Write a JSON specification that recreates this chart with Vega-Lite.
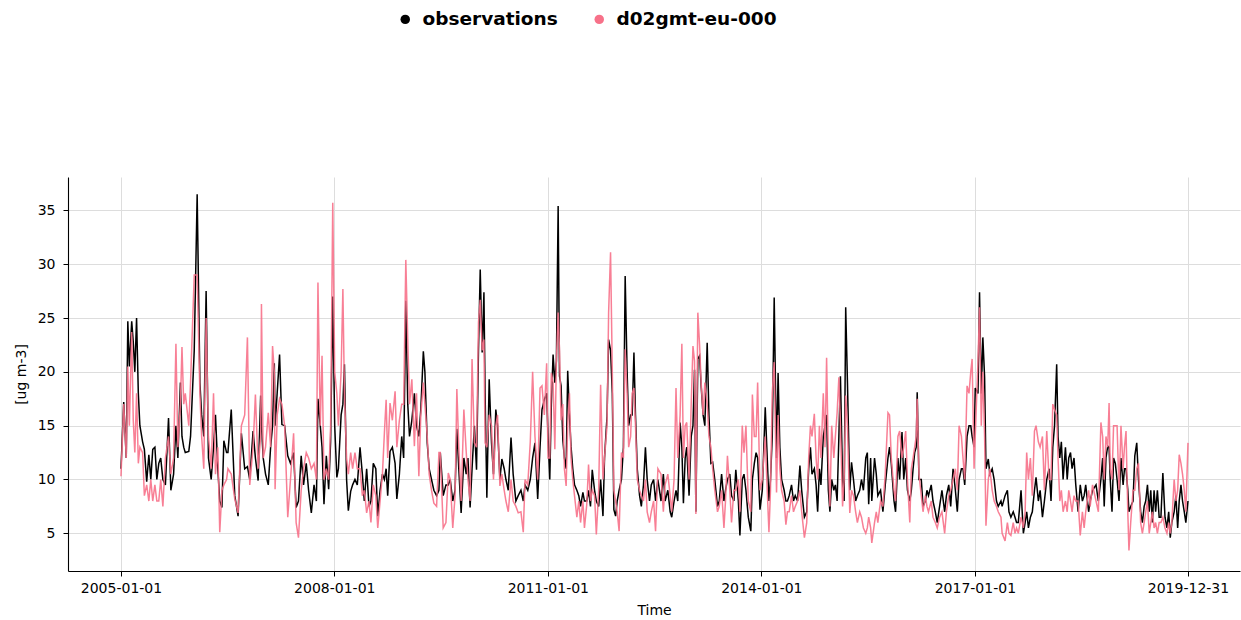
{
"$schema": "https://vega.github.io/schema/vega-lite/v6.json",
"width": 1172, "height": 394,
"autosize": {"type": "none"},
"padding": {"left": 68, "top": 177, "right": 1, "bottom": 49},
"background": "white",
"config": {"view": {"stroke": null}, "font": "DejaVu Sans"},
"datasets": {
"obs": [
{"d":"2005-01-01","v":11},{"d":"2005-01-15","v":17.2},{"d":"2005-01-28","v":12},{"d":"2005-02-05","v":24.7},{"d":"2005-02-13","v":20.5},{"d":"2005-02-25","v":24.7},{"d":"2005-03-05","v":22.8},{"d":"2005-03-13","v":20},{"d":"2005-03-22","v":25},{"d":"2005-03-31","v":18},{"d":"2005-04-08","v":15},{"d":"2005-04-22","v":13.5},{"d":"2005-05-01","v":12.8},{"d":"2005-05-13","v":9.8},{"d":"2005-05-24","v":12.3},{"d":"2005-06-03","v":10},{"d":"2005-06-13","v":12.8},{"d":"2005-06-24","v":13},{"d":"2005-07-04","v":10},{"d":"2005-07-14","v":11.5},{"d":"2005-07-24","v":12},{"d":"2005-08-04","v":10},{"d":"2005-08-17","v":9.5},{"d":"2005-09-02","v":15.7},{"d":"2005-09-14","v":9},{"d":"2005-09-28","v":10.5},{"d":"2005-10-10","v":15},{"d":"2005-10-20","v":12},{"d":"2005-11-02","v":19},{"d":"2005-11-10","v":14},{"d":"2005-11-19","v":13},{"d":"2005-11-27","v":12.5},{"d":"2005-12-15","v":12.6},{"d":"2005-12-24","v":14},
{"d":"2006-01-12","v":22},{"d":"2006-01-27","v":36.5},{"d":"2006-02-10","v":19},{"d":"2006-02-19","v":16},{"d":"2006-03-02","v":14},{"d":"2006-03-14","v":27.5},{"d":"2006-03-26","v":12},{"d":"2006-04-09","v":10},{"d":"2006-04-21","v":13},{"d":"2006-05-01","v":16},{"d":"2006-05-13","v":11},{"d":"2006-05-23","v":8},{"d":"2006-06-03","v":7.4},{"d":"2006-06-13","v":13.6},{"d":"2006-06-27","v":12.5},{"d":"2006-07-04","v":12.5},{"d":"2006-07-21","v":16.5},{"d":"2006-08-08","v":8.5},{"d":"2006-08-25","v":6.6},{"d":"2006-09-11","v":14.3},{"d":"2006-09-28","v":11},{"d":"2006-10-12","v":11.2},{"d":"2006-10-24","v":10},{"d":"2006-11-10","v":14.5},{"d":"2006-11-22","v":12},{"d":"2006-12-06","v":9.9},{"d":"2006-12-19","v":17.8},{"d":"2006-12-23","v":15},
{"d":"2007-01-01","v":12},{"d":"2007-01-13","v":10.5},{"d":"2007-01-27","v":9.5},{"d":"2007-02-08","v":13},{"d":"2007-02-18","v":15},{"d":"2007-02-27","v":20.8},{"d":"2007-03-03","v":15},{"d":"2007-03-14","v":18.1},{"d":"2007-03-26","v":21.6},{"d":"2007-04-07","v":15.1},{"d":"2007-04-21","v":15},{"d":"2007-05-07","v":12.2},{"d":"2007-05-21","v":11.5},{"d":"2007-06-06","v":12.5},{"d":"2007-06-19","v":7.4},{"d":"2007-07-01","v":8},{"d":"2007-07-15","v":12.2},{"d":"2007-07-27","v":9.5},{"d":"2007-08-10","v":11.5},{"d":"2007-08-22","v":9},{"d":"2007-09-05","v":6.9},{"d":"2007-09-19","v":9.5},{"d":"2007-10-01","v":8},{"d":"2007-10-09","v":17.5},{"d":"2007-10-21","v":15},{"d":"2007-10-30","v":13},{"d":"2007-11-09","v":7.7},{"d":"2007-11-21","v":12.2},{"d":"2007-12-03","v":9.1},{"d":"2007-12-13","v":13.5},{"d":"2007-12-24","v":27},
{"d":"2008-01-03","v":15},{"d":"2008-01-14","v":10.2},{"d":"2008-01-22","v":11},{"d":"2008-02-05","v":16},{"d":"2008-02-14","v":17},{"d":"2008-02-22","v":20.7},{"d":"2008-03-04","v":10},{"d":"2008-03-13","v":7.1},{"d":"2008-03-25","v":8.9},{"d":"2008-04-04","v":9.5},{"d":"2008-04-16","v":10},{"d":"2008-04-28","v":9.5},{"d":"2008-05-12","v":13},{"d":"2008-05-24","v":10.5},{"d":"2008-06-03","v":8},{"d":"2008-06-15","v":11},{"d":"2008-06-27","v":7.5},{"d":"2008-07-07","v":8},{"d":"2008-07-19","v":11.5},{"d":"2008-08-01","v":11},{"d":"2008-08-11","v":6.6},{"d":"2008-08-23","v":9},{"d":"2008-09-04","v":10.5},{"d":"2008-09-14","v":10},{"d":"2008-09-23","v":11},{"d":"2008-10-01","v":8.5},{"d":"2008-10-13","v":12.6},{"d":"2008-10-25","v":13},{"d":"2008-11-08","v":11.5},{"d":"2008-11-17","v":8.2},{"d":"2008-11-30","v":10.5},{"d":"2008-12-12","v":14},{"d":"2008-12-22","v":12},
{"d":"2009-01-02","v":26.6},{"d":"2009-01-12","v":17},{"d":"2009-01-21","v":14},{"d":"2009-02-02","v":15.5},{"d":"2009-02-15","v":18},{"d":"2009-02-26","v":15},{"d":"2009-03-10","v":14},{"d":"2009-03-20","v":16.5},{"d":"2009-04-02","v":21.9},{"d":"2009-04-10","v":20},{"d":"2009-04-22","v":13.4},{"d":"2009-05-02","v":11},{"d":"2009-05-14","v":10},{"d":"2009-05-26","v":9},{"d":"2009-06-09","v":8.5},{"d":"2009-06-21","v":9},{"d":"2009-06-28","v":12.5},{"d":"2009-07-13","v":8.5},{"d":"2009-07-27","v":9.5},{"d":"2009-08-08","v":9.5},{"d":"2009-08-18","v":10},{"d":"2009-08-31","v":8},{"d":"2009-09-12","v":9},{"d":"2009-09-21","v":14.7},{"d":"2009-10-01","v":11},{"d":"2009-10-13","v":6.9},{"d":"2009-10-27","v":12},{"d":"2009-11-08","v":10.5},{"d":"2009-11-17","v":12},{"d":"2009-11-28","v":7.4},{"d":"2009-12-08","v":11},{"d":"2009-12-20","v":15},{"d":"2009-12-31","v":10.9},
{"d":"2010-01-10","v":22},{"d":"2010-01-19","v":29.5},{"d":"2010-01-29","v":21.8},{"d":"2010-02-07","v":27.4},{"d":"2010-02-13","v":18},{"d":"2010-02-22","v":8.3},{"d":"2010-03-06","v":19.3},{"d":"2010-03-18","v":13.4},{"d":"2010-03-28","v":10.5},{"d":"2010-04-09","v":16.5},{"d":"2010-04-18","v":15},{"d":"2010-04-30","v":10},{"d":"2010-05-10","v":11.9},{"d":"2010-05-22","v":11},{"d":"2010-05-31","v":10},{"d":"2010-06-12","v":9},{"d":"2010-06-26","v":13.9},{"d":"2010-07-07","v":10.5},{"d":"2010-07-21","v":8},{"d":"2010-08-02","v":8.5},{"d":"2010-08-16","v":9},{"d":"2010-08-28","v":8},{"d":"2010-09-06","v":9.5},{"d":"2010-09-20","v":9},{"d":"2010-10-03","v":10},{"d":"2010-10-15","v":12},{"d":"2010-10-27","v":13.4},{"d":"2010-11-10","v":8.2},{"d":"2010-11-22","v":13},{"d":"2010-12-02","v":16.5},{"d":"2010-12-14","v":17.4},{"d":"2010-12-26","v":18},
{"d":"2011-01-02","v":14},{"d":"2011-01-11","v":10},{"d":"2011-01-19","v":17},{"d":"2011-01-28","v":21.6},{"d":"2011-02-06","v":19},{"d":"2011-02-14","v":21},{"d":"2011-02-23","v":35.4},{"d":"2011-03-02","v":19.6},{"d":"2011-03-10","v":18.7},{"d":"2011-03-19","v":13.7},{"d":"2011-03-27","v":12},{"d":"2011-04-05","v":11},{"d":"2011-04-13","v":20.1},{"d":"2011-04-22","v":16},{"d":"2011-04-30","v":13.1},{"d":"2011-05-09","v":11},{"d":"2011-05-18","v":9.5},{"d":"2011-05-30","v":9},{"d":"2011-06-09","v":8.5},{"d":"2011-06-18","v":7.5},{"d":"2011-06-30","v":8.8},{"d":"2011-07-08","v":8},{"d":"2011-07-20","v":8},{"d":"2011-07-29","v":9},{"d":"2011-08-08","v":7.5},{"d":"2011-08-17","v":10.9},{"d":"2011-08-29","v":9},{"d":"2011-09-07","v":8},{"d":"2011-09-19","v":7.5},{"d":"2011-09-29","v":10},{"d":"2011-10-11","v":6.6},{"d":"2011-10-19","v":12},{"d":"2011-11-01","v":15.9},{"d":"2011-11-09","v":23},{"d":"2011-11-19","v":22},{"d":"2011-11-28","v":18},{"d":"2011-12-06","v":7.2},{"d":"2011-12-15","v":6.6},{"d":"2011-12-23","v":8},
{"d":"2012-01-02","v":9},{"d":"2012-01-14","v":10},{"d":"2012-01-24","v":13},{"d":"2012-02-02","v":28.9},{"d":"2012-02-12","v":20},{"d":"2012-02-20","v":15},{"d":"2012-03-01","v":16},{"d":"2012-03-09","v":16},{"d":"2012-03-18","v":21.8},{"d":"2012-03-26","v":16},{"d":"2012-04-04","v":11},{"d":"2012-04-16","v":8.5},{"d":"2012-04-25","v":7.5},{"d":"2012-05-06","v":9.5},{"d":"2012-05-16","v":13},{"d":"2012-05-25","v":10},{"d":"2012-06-06","v":8},{"d":"2012-06-15","v":9.5},{"d":"2012-06-27","v":10},{"d":"2012-07-07","v":8},{"d":"2012-07-19","v":10},{"d":"2012-08-04","v":8},{"d":"2012-08-16","v":10.5},{"d":"2012-08-25","v":8},{"d":"2012-09-08","v":9},{"d":"2012-09-20","v":7},{"d":"2012-09-28","v":6.5},{"d":"2012-10-10","v":8},{"d":"2012-10-20","v":9},{"d":"2012-10-29","v":8},{"d":"2012-11-10","v":15.3},{"d":"2012-11-19","v":13},{"d":"2012-11-27","v":7.8},{"d":"2012-12-06","v":12},{"d":"2012-12-14","v":13},{"d":"2012-12-26","v":8.5},
{"d":"2013-01-06","v":14},{"d":"2013-01-15","v":15},{"d":"2013-01-23","v":20.2},{"d":"2013-01-30","v":7},{"d":"2013-02-09","v":21.2},{"d":"2013-02-18","v":21.5},{"d":"2013-02-26","v":18.7},{"d":"2013-03-08","v":16},{"d":"2013-03-17","v":15},{"d":"2013-03-29","v":22.7},{"d":"2013-04-07","v":16},{"d":"2013-04-17","v":11.5},{"d":"2013-04-26","v":11.6},{"d":"2013-05-07","v":10},{"d":"2013-05-21","v":7.5},{"d":"2013-05-30","v":8},{"d":"2013-06-11","v":10.5},{"d":"2013-06-23","v":8},{"d":"2013-07-01","v":9},{"d":"2013-07-11","v":10},{"d":"2013-07-23","v":10.5},{"d":"2013-08-01","v":8.5},{"d":"2013-08-13","v":8},{"d":"2013-08-23","v":10.9},{"d":"2013-09-05","v":8},{"d":"2013-09-13","v":4.8},{"d":"2013-09-25","v":10},{"d":"2013-10-04","v":10.5},{"d":"2013-10-14","v":9},{"d":"2013-10-26","v":6.5},{"d":"2013-11-08","v":5.2},{"d":"2013-11-16","v":10},{"d":"2013-11-26","v":11.5},{"d":"2013-12-05","v":12.5},{"d":"2013-12-13","v":12},{"d":"2013-12-25","v":7.2},
{"d":"2014-01-06","v":9},{"d":"2014-01-21","v":16.7},{"d":"2014-01-29","v":13},{"d":"2014-02-09","v":8},{"d":"2014-02-17","v":10},{"d":"2014-02-26","v":14},{"d":"2014-03-08","v":26.9},{"d":"2014-03-20","v":12},{"d":"2014-03-28","v":19.9},{"d":"2014-04-06","v":13},{"d":"2014-04-15","v":10},{"d":"2014-04-28","v":9},{"d":"2014-05-07","v":8},{"d":"2014-05-15","v":8},{"d":"2014-05-24","v":8.5},{"d":"2014-06-05","v":9.5},{"d":"2014-06-15","v":8},{"d":"2014-06-24","v":8.5},{"d":"2014-07-06","v":8},{"d":"2014-07-18","v":11.3},{"d":"2014-07-27","v":9},{"d":"2014-08-10","v":6.5},{"d":"2014-08-22","v":7},{"d":"2014-09-01","v":11},{"d":"2014-09-10","v":13},{"d":"2014-09-18","v":10.5},{"d":"2014-09-30","v":11},{"d":"2014-10-09","v":9.5},{"d":"2014-10-17","v":7},{"d":"2014-10-26","v":11},{"d":"2014-11-03","v":9.5},{"d":"2014-11-15","v":14},{"d":"2014-11-24","v":15},{"d":"2014-12-02","v":16},{"d":"2014-12-11","v":9},{"d":"2014-12-19","v":7},{"d":"2014-12-28","v":10},
{"d":"2015-01-08","v":9},{"d":"2015-01-16","v":9.5},{"d":"2015-01-25","v":8},{"d":"2015-02-03","v":14},{"d":"2015-02-11","v":19.6},{"d":"2015-02-22","v":10},{"d":"2015-03-02","v":8},{"d":"2015-03-10","v":26},{"d":"2015-03-19","v":19},{"d":"2015-03-31","v":9},{"d":"2015-04-09","v":11.6},{"d":"2015-04-19","v":10},{"d":"2015-04-30","v":8},{"d":"2015-05-09","v":8.5},{"d":"2015-05-21","v":9},{"d":"2015-05-30","v":10},{"d":"2015-06-09","v":9},{"d":"2015-06-21","v":12},{"d":"2015-06-29","v":12.5},{"d":"2015-07-06","v":7.7},{"d":"2015-07-16","v":12},{"d":"2015-07-22","v":8},{"d":"2015-08-05","v":12},{"d":"2015-08-14","v":10.5},{"d":"2015-08-22","v":8.5},{"d":"2015-09-05","v":9},{"d":"2015-09-17","v":7},{"d":"2015-09-29","v":9.5},{"d":"2015-10-13","v":12},{"d":"2015-10-21","v":13},{"d":"2015-10-30","v":11.5},{"d":"2015-11-13","v":8},{"d":"2015-11-21","v":7},{"d":"2015-12-03","v":12},{"d":"2015-12-12","v":10},{"d":"2015-12-24","v":14.4},
{"d":"2016-01-02","v":10},{"d":"2016-01-12","v":12},{"d":"2016-01-21","v":9},{"d":"2016-02-02","v":8},{"d":"2016-02-10","v":9},{"d":"2016-02-19","v":11},{"d":"2016-02-27","v":12.5},{"d":"2016-03-06","v":13},{"d":"2016-03-11","v":18.1},{"d":"2016-03-20","v":10},{"d":"2016-04-01","v":10},{"d":"2016-04-10","v":7.5},{"d":"2016-04-22","v":8},{"d":"2016-04-30","v":9},{"d":"2016-05-08","v":8.5},{"d":"2016-05-22","v":9.5},{"d":"2016-05-31","v":8},{"d":"2016-06-12","v":7},{"d":"2016-06-22","v":6},{"d":"2016-07-04","v":7.5},{"d":"2016-07-16","v":9},{"d":"2016-07-30","v":7},{"d":"2016-08-08","v":8.5},{"d":"2016-08-20","v":9.5},{"d":"2016-08-30","v":7.5},{"d":"2016-09-11","v":11},{"d":"2016-09-23","v":9},{"d":"2016-10-03","v":7},{"d":"2016-10-12","v":10},{"d":"2016-10-24","v":11},{"d":"2016-11-01","v":11},{"d":"2016-11-10","v":9.5},{"d":"2016-11-22","v":14},{"d":"2016-12-02","v":15},{"d":"2016-12-11","v":15},{"d":"2016-12-18","v":14},{"d":"2016-12-28","v":13},
{"d":"2017-01-03","v":18.5},{"d":"2017-01-17","v":18},{"d":"2017-01-25","v":27.4},{"d":"2017-02-03","v":18},{"d":"2017-02-11","v":23.2},{"d":"2017-02-20","v":19.5},{"d":"2017-02-27","v":11},{"d":"2017-03-11","v":11.9},{"d":"2017-03-19","v":10.5},{"d":"2017-03-31","v":11},{"d":"2017-04-10","v":10},{"d":"2017-04-22","v":8},{"d":"2017-05-01","v":7.5},{"d":"2017-05-15","v":8},{"d":"2017-05-21","v":7.5},{"d":"2017-06-05","v":8.5},{"d":"2017-06-17","v":9},{"d":"2017-06-25","v":7},{"d":"2017-07-05","v":6.5},{"d":"2017-07-17","v":7},{"d":"2017-07-26","v":6.5},{"d":"2017-08-03","v":6},{"d":"2017-08-12","v":6},{"d":"2017-08-26","v":9},{"d":"2017-09-07","v":5},{"d":"2017-09-16","v":6},{"d":"2017-09-24","v":7},{"d":"2017-10-03","v":5.5},{"d":"2017-10-13","v":6.5},{"d":"2017-10-23","v":7},{"d":"2017-11-03","v":9},{"d":"2017-11-11","v":10.2},{"d":"2017-11-23","v":8},{"d":"2017-12-02","v":9},{"d":"2017-12-14","v":6.5},{"d":"2017-12-24","v":8},
{"d":"2018-01-05","v":10},{"d":"2018-01-17","v":11},{"d":"2018-01-27","v":8},{"d":"2018-02-05","v":13},{"d":"2018-02-14","v":15},{"d":"2018-02-25","v":20.7},{"d":"2018-03-04","v":14},{"d":"2018-03-13","v":12},{"d":"2018-03-21","v":13.5},{"d":"2018-03-30","v":10},{"d":"2018-04-11","v":13},{"d":"2018-04-20","v":10},{"d":"2018-04-28","v":12},{"d":"2018-05-07","v":12.5},{"d":"2018-05-15","v":11},{"d":"2018-05-25","v":12},{"d":"2018-06-03","v":9.5},{"d":"2018-06-15","v":7},{"d":"2018-06-26","v":9.5},{"d":"2018-07-07","v":8},{"d":"2018-07-16","v":8.5},{"d":"2018-07-24","v":9.5},{"d":"2018-08-08","v":7},{"d":"2018-08-16","v":8},{"d":"2018-08-28","v":9},{"d":"2018-09-15","v":9.5},{"d":"2018-09-27","v":8},{"d":"2018-10-10","v":10},{"d":"2018-10-19","v":12},{"d":"2018-10-27","v":7.5},{"d":"2018-11-05","v":12},{"d":"2018-11-14","v":13.1},{"d":"2018-11-21","v":13},{"d":"2018-11-27","v":10},{"d":"2018-12-06","v":7},{"d":"2018-12-14","v":12},{"d":"2018-12-23","v":11.5},
{"d":"2019-01-01","v":10},{"d":"2019-01-11","v":8},{"d":"2019-01-21","v":12},{"d":"2019-02-01","v":9.5},{"d":"2019-02-08","v":11},{"d":"2019-02-16","v":11},{"d":"2019-02-25","v":9},{"d":"2019-03-03","v":7},{"d":"2019-03-12","v":7.5},{"d":"2019-03-24","v":8},{"d":"2019-04-02","v":12.2},{"d":"2019-04-12","v":13.4},{"d":"2019-04-21","v":10},{"d":"2019-05-02","v":7},{"d":"2019-05-11","v":6},{"d":"2019-05-20","v":7.5},{"d":"2019-05-28","v":8},{"d":"2019-06-06","v":9.5},{"d":"2019-06-15","v":7},{"d":"2019-06-23","v":9},{"d":"2019-07-01","v":6},{"d":"2019-07-10","v":9},{"d":"2019-07-18","v":7},{"d":"2019-07-27","v":9},{"d":"2019-08-05","v":6.5},{"d":"2019-08-14","v":6.5},{"d":"2019-08-24","v":10.6},{"d":"2019-09-04","v":6.5},{"d":"2019-09-14","v":5.5},{"d":"2019-09-23","v":7},{"d":"2019-10-01","v":4.6},{"d":"2019-10-09","v":6},{"d":"2019-10-21","v":7},{"d":"2019-10-30","v":8.5},{"d":"2019-11-08","v":5.5},{"d":"2019-11-16","v":8},{"d":"2019-11-25","v":9.5},{"d":"2019-12-03","v":8},{"d":"2019-12-12","v":7},{"d":"2019-12-20","v":6},{"d":"2019-12-31","v":8}
],
"mod": [
{"d":"2005-01-01","v":10.3},{"d":"2005-01-15","v":17},{"d":"2005-01-28","v":12},{"d":"2005-02-05","v":20.5},{"d":"2005-02-13","v":15},{"d":"2005-02-25","v":23.7},{"d":"2005-03-05","v":15.5},{"d":"2005-03-13","v":12.5},{"d":"2005-03-22","v":18},{"d":"2005-03-31","v":11.5},{"d":"2005-04-08","v":13},{"d":"2005-04-22","v":12.5},{"d":"2005-05-01","v":8.5},{"d":"2005-05-13","v":9.5},{"d":"2005-05-24","v":8},{"d":"2005-06-03","v":10},{"d":"2005-06-13","v":8},{"d":"2005-06-24","v":9.5},{"d":"2005-07-04","v":8},{"d":"2005-07-14","v":8},{"d":"2005-07-24","v":10},{"d":"2005-08-04","v":7.5},{"d":"2005-08-17","v":12},{"d":"2005-09-02","v":14},{"d":"2005-09-14","v":10.5},{"d":"2005-09-28","v":12},{"d":"2005-10-10","v":22.6},{"d":"2005-10-20","v":13},{"d":"2005-11-02","v":17},{"d":"2005-11-10","v":22.3},{"d":"2005-11-19","v":17},{"d":"2005-11-27","v":18},{"d":"2005-12-15","v":15},{"d":"2005-12-24","v":19},
{"d":"2006-01-12","v":29},{"d":"2006-01-27","v":29},{"d":"2006-02-10","v":18},{"d":"2006-02-19","v":14},{"d":"2006-03-02","v":11},{"d":"2006-03-14","v":25},{"d":"2006-03-26","v":14},{"d":"2006-04-09","v":11},{"d":"2006-04-21","v":18},{"d":"2006-05-01","v":10.5},{"d":"2006-05-13","v":13},{"d":"2006-05-23","v":5.1},{"d":"2006-06-03","v":9},{"d":"2006-06-13","v":9.5},{"d":"2006-06-27","v":10},{"d":"2006-07-04","v":11},{"d":"2006-07-21","v":10.5},{"d":"2006-08-08","v":8.2},{"d":"2006-08-25","v":6.9},{"d":"2006-09-11","v":15},{"d":"2006-09-28","v":16},{"d":"2006-10-12","v":23.2},{"d":"2006-10-24","v":9.5},{"d":"2006-11-10","v":13},{"d":"2006-11-22","v":17.9},{"d":"2006-12-06","v":11},{"d":"2006-12-19","v":14},{"d":"2006-12-23","v":26.3},
{"d":"2007-01-01","v":12},{"d":"2007-01-13","v":13},{"d":"2007-01-27","v":16.2},{"d":"2007-02-08","v":13},{"d":"2007-02-18","v":22.4},{"d":"2007-02-27","v":20},{"d":"2007-03-03","v":9.1},{"d":"2007-03-14","v":16},{"d":"2007-03-26","v":17.5},{"d":"2007-04-07","v":17},{"d":"2007-04-21","v":15},{"d":"2007-05-07","v":6.5},{"d":"2007-05-21","v":10},{"d":"2007-06-06","v":14.3},{"d":"2007-06-19","v":6},{"d":"2007-07-01","v":4.6},{"d":"2007-07-15","v":9},{"d":"2007-07-27","v":11},{"d":"2007-08-10","v":12.5},{"d":"2007-08-22","v":12},{"d":"2007-09-05","v":11},{"d":"2007-09-19","v":11.5},{"d":"2007-10-01","v":10},{"d":"2007-10-09","v":28.3},{"d":"2007-10-21","v":15},{"d":"2007-10-30","v":21.5},{"d":"2007-11-09","v":10},{"d":"2007-11-21","v":11},{"d":"2007-12-03","v":10},{"d":"2007-12-13","v":15},{"d":"2007-12-24","v":35.7},
{"d":"2008-01-03","v":20},{"d":"2008-01-14","v":18},{"d":"2008-01-22","v":15},{"d":"2008-02-05","v":20},{"d":"2008-02-14","v":27.7},{"d":"2008-02-22","v":18},{"d":"2008-03-04","v":12},{"d":"2008-03-13","v":10.5},{"d":"2008-03-25","v":12.5},{"d":"2008-04-04","v":11},{"d":"2008-04-16","v":12.5},{"d":"2008-04-28","v":11},{"d":"2008-05-12","v":11},{"d":"2008-05-24","v":8.5},{"d":"2008-06-03","v":9},{"d":"2008-06-15","v":6.9},{"d":"2008-06-27","v":8},{"d":"2008-07-07","v":6},{"d":"2008-07-19","v":9.5},{"d":"2008-08-01","v":8.5},{"d":"2008-08-11","v":5.5},{"d":"2008-08-23","v":8},{"d":"2008-09-04","v":10.5},{"d":"2008-09-14","v":14.3},{"d":"2008-09-23","v":17.4},{"d":"2008-10-01","v":12},{"d":"2008-10-13","v":17.1},{"d":"2008-10-25","v":15.5},{"d":"2008-11-08","v":18.2},{"d":"2008-11-17","v":13},{"d":"2008-11-30","v":15.5},{"d":"2008-12-12","v":17},{"d":"2008-12-22","v":17},
{"d":"2009-01-02","v":30.4},{"d":"2009-01-12","v":23},{"d":"2009-01-21","v":17},{"d":"2009-02-02","v":19.3},{"d":"2009-02-15","v":13.1},{"d":"2009-02-26","v":18},{"d":"2009-03-10","v":10.3},{"d":"2009-03-20","v":16},{"d":"2009-04-02","v":19},{"d":"2009-04-10","v":17},{"d":"2009-04-22","v":14},{"d":"2009-05-02","v":10.5},{"d":"2009-05-14","v":9},{"d":"2009-05-26","v":7.8},{"d":"2009-06-09","v":7.5},{"d":"2009-06-21","v":12.5},{"d":"2009-06-28","v":12.5},{"d":"2009-07-13","v":5.5},{"d":"2009-07-27","v":6},{"d":"2009-08-08","v":10.6},{"d":"2009-08-18","v":10},{"d":"2009-08-31","v":5.5},{"d":"2009-09-12","v":8.5},{"d":"2009-09-21","v":18.4},{"d":"2009-10-01","v":13},{"d":"2009-10-13","v":8},{"d":"2009-10-27","v":16.5},{"d":"2009-11-08","v":12.6},{"d":"2009-11-17","v":10},{"d":"2009-11-28","v":8},{"d":"2009-12-08","v":21.2},{"d":"2009-12-20","v":13.4},{"d":"2009-12-31","v":13},
{"d":"2010-01-10","v":24.6},{"d":"2010-01-19","v":26.7},{"d":"2010-01-29","v":22},{"d":"2010-02-07","v":23},{"d":"2010-02-13","v":13.4},{"d":"2010-02-22","v":13},{"d":"2010-03-06","v":16},{"d":"2010-03-18","v":15},{"d":"2010-03-28","v":10},{"d":"2010-04-09","v":15},{"d":"2010-04-18","v":16},{"d":"2010-04-30","v":9.4},{"d":"2010-05-10","v":10.5},{"d":"2010-05-22","v":9},{"d":"2010-05-31","v":8},{"d":"2010-06-12","v":7},{"d":"2010-06-26","v":10},{"d":"2010-07-07","v":8},{"d":"2010-07-21","v":7.5},{"d":"2010-08-02","v":6.9},{"d":"2010-08-16","v":7},{"d":"2010-08-28","v":5.1},{"d":"2010-09-06","v":10},{"d":"2010-09-20","v":9.5},{"d":"2010-10-03","v":13.5},{"d":"2010-10-15","v":20},{"d":"2010-10-27","v":14},{"d":"2010-11-10","v":10},{"d":"2010-11-22","v":18.5},{"d":"2010-12-02","v":18.7},{"d":"2010-12-14","v":16},{"d":"2010-12-26","v":20.8},
{"d":"2011-01-02","v":12},{"d":"2011-01-11","v":12},{"d":"2011-01-19","v":19.9},{"d":"2011-01-28","v":19},{"d":"2011-02-06","v":12.8},{"d":"2011-02-14","v":21},{"d":"2011-02-23","v":25.5},{"d":"2011-03-02","v":22},{"d":"2011-03-10","v":15.5},{"d":"2011-03-19","v":17},{"d":"2011-03-27","v":11},{"d":"2011-04-05","v":9.4},{"d":"2011-04-13","v":15},{"d":"2011-04-22","v":18},{"d":"2011-04-30","v":12},{"d":"2011-05-09","v":10},{"d":"2011-05-18","v":8.5},{"d":"2011-05-30","v":6.5},{"d":"2011-06-09","v":8},{"d":"2011-06-18","v":6},{"d":"2011-06-30","v":8},{"d":"2011-07-08","v":5.5},{"d":"2011-07-20","v":7.7},{"d":"2011-07-29","v":11.4},{"d":"2011-08-08","v":8},{"d":"2011-08-17","v":9},{"d":"2011-08-29","v":8.5},{"d":"2011-09-07","v":4.9},{"d":"2011-09-19","v":9},{"d":"2011-09-29","v":18.8},{"d":"2011-10-11","v":10},{"d":"2011-10-19","v":12},{"d":"2011-11-01","v":15},{"d":"2011-11-09","v":25.5},{"d":"2011-11-19","v":31.1},{"d":"2011-11-28","v":20},{"d":"2011-12-06","v":9},{"d":"2011-12-15","v":8},{"d":"2011-12-23","v":7},
{"d":"2012-01-02","v":5.2},{"d":"2012-01-14","v":12.5},{"d":"2012-01-24","v":12},{"d":"2012-02-02","v":22.1},{"d":"2012-02-12","v":18},{"d":"2012-02-20","v":13},{"d":"2012-03-01","v":14},{"d":"2012-03-09","v":18},{"d":"2012-03-18","v":18.5},{"d":"2012-03-26","v":15},{"d":"2012-04-04","v":10},{"d":"2012-04-16","v":9},{"d":"2012-04-25","v":8.5},{"d":"2012-05-06","v":8},{"d":"2012-05-16","v":10},{"d":"2012-05-25","v":7},{"d":"2012-06-06","v":6},{"d":"2012-06-15","v":7},{"d":"2012-06-27","v":8},{"d":"2012-07-07","v":5.2},{"d":"2012-07-19","v":11},{"d":"2012-08-04","v":10.5},{"d":"2012-08-16","v":7},{"d":"2012-08-25","v":9.5},{"d":"2012-09-08","v":10.5},{"d":"2012-09-20","v":8.5},{"d":"2012-09-28","v":7},{"d":"2012-10-10","v":10},{"d":"2012-10-20","v":18.5},{"d":"2012-10-29","v":12},{"d":"2012-11-10","v":16},{"d":"2012-11-19","v":22.6},{"d":"2012-11-27","v":12},{"d":"2012-12-06","v":15},{"d":"2012-12-14","v":15.3},{"d":"2012-12-26","v":10},
{"d":"2013-01-06","v":17},{"d":"2013-01-15","v":22.4},{"d":"2013-01-23","v":21},{"d":"2013-01-30","v":6.8},{"d":"2013-02-09","v":25.5},{"d":"2013-02-18","v":22.5},{"d":"2013-02-26","v":19},{"d":"2013-03-08","v":16},{"d":"2013-03-17","v":19},{"d":"2013-03-29","v":17},{"d":"2013-04-07","v":14},{"d":"2013-04-17","v":13},{"d":"2013-04-26","v":11},{"d":"2013-05-07","v":9},{"d":"2013-05-21","v":7},{"d":"2013-05-30","v":7.5},{"d":"2013-06-11","v":9},{"d":"2013-06-23","v":5.5},{"d":"2013-07-01","v":8},{"d":"2013-07-11","v":12.2},{"d":"2013-07-23","v":9},{"d":"2013-08-01","v":6},{"d":"2013-08-13","v":9},{"d":"2013-08-23","v":9},{"d":"2013-09-05","v":10},{"d":"2013-09-13","v":7},{"d":"2013-09-25","v":15},{"d":"2013-10-04","v":12.5},{"d":"2013-10-14","v":15},{"d":"2013-10-26","v":8},{"d":"2013-11-08","v":7},{"d":"2013-11-16","v":17.9},{"d":"2013-11-26","v":14},{"d":"2013-12-05","v":14},{"d":"2013-12-13","v":19},{"d":"2013-12-25","v":9},
{"d":"2014-01-06","v":10},{"d":"2014-01-21","v":14},{"d":"2014-01-29","v":10},{"d":"2014-02-09","v":5.1},{"d":"2014-02-17","v":9},{"d":"2014-02-26","v":18},{"d":"2014-03-08","v":20.9},{"d":"2014-03-20","v":8.8},{"d":"2014-03-28","v":16},{"d":"2014-04-06","v":11},{"d":"2014-04-15","v":9},{"d":"2014-04-28","v":8},{"d":"2014-05-07","v":5.8},{"d":"2014-05-15","v":7},{"d":"2014-05-24","v":7},{"d":"2014-06-05","v":8.5},{"d":"2014-06-15","v":7},{"d":"2014-06-24","v":7.5},{"d":"2014-07-06","v":8},{"d":"2014-07-18","v":9},{"d":"2014-07-27","v":7},{"d":"2014-08-10","v":4.6},{"d":"2014-08-22","v":6},{"d":"2014-09-01","v":12},{"d":"2014-09-10","v":15},{"d":"2014-09-18","v":14},{"d":"2014-09-30","v":16.1},{"d":"2014-10-09","v":12},{"d":"2014-10-17","v":10},{"d":"2014-10-26","v":15},{"d":"2014-11-03","v":12},{"d":"2014-11-15","v":18},{"d":"2014-11-24","v":13},{"d":"2014-12-02","v":21.3},{"d":"2014-12-11","v":12},{"d":"2014-12-19","v":7.5},{"d":"2014-12-28","v":15},
{"d":"2015-01-08","v":12},{"d":"2015-01-16","v":14},{"d":"2015-01-25","v":16.2},{"d":"2015-02-03","v":19.5},{"d":"2015-02-11","v":15},{"d":"2015-02-22","v":7.5},{"d":"2015-03-02","v":10},{"d":"2015-03-10","v":17.8},{"d":"2015-03-19","v":15},{"d":"2015-03-31","v":6.9},{"d":"2015-04-09","v":9},{"d":"2015-04-19","v":8.5},{"d":"2015-04-30","v":7},{"d":"2015-05-09","v":6},{"d":"2015-05-21","v":7},{"d":"2015-05-30","v":6.5},{"d":"2015-06-09","v":5.5},{"d":"2015-06-21","v":5},{"d":"2015-06-29","v":5.5},{"d":"2015-07-06","v":6.5},{"d":"2015-07-16","v":5.5},{"d":"2015-07-22","v":4.1},{"d":"2015-08-05","v":6},{"d":"2015-08-14","v":7},{"d":"2015-08-22","v":6},{"d":"2015-09-05","v":8},{"d":"2015-09-17","v":7.5},{"d":"2015-09-29","v":10.5},{"d":"2015-10-13","v":16.2},{"d":"2015-10-21","v":16},{"d":"2015-10-30","v":12},{"d":"2015-11-13","v":9},{"d":"2015-11-21","v":8},{"d":"2015-12-03","v":14},{"d":"2015-12-12","v":14.5},{"d":"2015-12-24","v":12},
{"d":"2016-01-02","v":13},{"d":"2016-01-12","v":14.5},{"d":"2016-01-21","v":10},{"d":"2016-02-02","v":6},{"d":"2016-02-10","v":11},{"d":"2016-02-19","v":12},{"d":"2016-02-27","v":13},{"d":"2016-03-06","v":14},{"d":"2016-03-11","v":17.5},{"d":"2016-03-20","v":10.5},{"d":"2016-04-01","v":8.5},{"d":"2016-04-10","v":7},{"d":"2016-04-22","v":8.5},{"d":"2016-04-30","v":7.5},{"d":"2016-05-08","v":7},{"d":"2016-05-22","v":8},{"d":"2016-05-31","v":6.5},{"d":"2016-06-12","v":6},{"d":"2016-06-22","v":5.5},{"d":"2016-07-04","v":6.5},{"d":"2016-07-16","v":7},{"d":"2016-07-30","v":5},{"d":"2016-08-08","v":7},{"d":"2016-08-20","v":8.5},{"d":"2016-08-30","v":9},{"d":"2016-09-11","v":10},{"d":"2016-09-23","v":11},{"d":"2016-10-03","v":9},{"d":"2016-10-12","v":15},{"d":"2016-10-24","v":14},{"d":"2016-11-01","v":12},{"d":"2016-11-10","v":10},{"d":"2016-11-22","v":18.7},{"d":"2016-12-02","v":18},{"d":"2016-12-11","v":20},{"d":"2016-12-18","v":21.2},{"d":"2016-12-28","v":11},
{"d":"2017-01-03","v":14},{"d":"2017-01-17","v":21},{"d":"2017-01-25","v":26},{"d":"2017-02-03","v":15},{"d":"2017-02-11","v":20},{"d":"2017-02-20","v":14},{"d":"2017-02-27","v":5.7},{"d":"2017-03-11","v":10},{"d":"2017-03-19","v":11},{"d":"2017-03-31","v":9},{"d":"2017-04-10","v":8},{"d":"2017-04-22","v":7.5},{"d":"2017-05-01","v":7},{"d":"2017-05-15","v":6.5},{"d":"2017-05-21","v":5},{"d":"2017-06-05","v":4.3},{"d":"2017-06-17","v":6},{"d":"2017-06-25","v":5},{"d":"2017-07-05","v":4.8},{"d":"2017-07-17","v":6},{"d":"2017-07-26","v":5},{"d":"2017-08-03","v":5.5},{"d":"2017-08-12","v":5},{"d":"2017-08-26","v":6.5},{"d":"2017-09-07","v":5.5},{"d":"2017-09-16","v":7},{"d":"2017-09-24","v":12.5},{"d":"2017-10-03","v":10},{"d":"2017-10-13","v":12},{"d":"2017-10-23","v":8.5},{"d":"2017-11-03","v":14.5},{"d":"2017-11-11","v":15},{"d":"2017-11-23","v":13.5},{"d":"2017-12-02","v":13},{"d":"2017-12-14","v":14},{"d":"2017-12-24","v":9},
{"d":"2018-01-05","v":14.5},{"d":"2018-01-17","v":10},{"d":"2018-01-27","v":10},{"d":"2018-02-05","v":17},{"d":"2018-02-14","v":16.5},{"d":"2018-02-25","v":16},{"d":"2018-03-04","v":12},{"d":"2018-03-13","v":8},{"d":"2018-03-21","v":9},{"d":"2018-03-30","v":7},{"d":"2018-04-11","v":8},{"d":"2018-04-20","v":7},{"d":"2018-04-28","v":9},{"d":"2018-05-07","v":8},{"d":"2018-05-15","v":7},{"d":"2018-05-25","v":8.5},{"d":"2018-06-03","v":8},{"d":"2018-06-15","v":8},{"d":"2018-06-26","v":4.8},{"d":"2018-07-07","v":7},{"d":"2018-07-16","v":5.5},{"d":"2018-07-24","v":7},{"d":"2018-08-08","v":9},{"d":"2018-08-16","v":7.5},{"d":"2018-08-28","v":9.5},{"d":"2018-09-15","v":8},{"d":"2018-09-27","v":7},{"d":"2018-10-10","v":15.3},{"d":"2018-10-19","v":14},{"d":"2018-10-27","v":10},{"d":"2018-11-05","v":14},{"d":"2018-11-14","v":13},{"d":"2018-11-21","v":17.1},{"d":"2018-11-27","v":11},{"d":"2018-12-06","v":10},{"d":"2018-12-14","v":15},{"d":"2018-12-23","v":15},
{"d":"2019-01-01","v":15},{"d":"2019-01-11","v":9},{"d":"2019-01-21","v":15},{"d":"2019-02-01","v":11},{"d":"2019-02-08","v":13},{"d":"2019-02-16","v":14.5},{"d":"2019-02-25","v":7},{"d":"2019-03-03","v":3.4},{"d":"2019-03-12","v":6},{"d":"2019-03-24","v":9},{"d":"2019-04-02","v":9},{"d":"2019-04-12","v":11},{"d":"2019-04-21","v":11.5},{"d":"2019-05-02","v":6},{"d":"2019-05-11","v":5},{"d":"2019-05-20","v":6},{"d":"2019-05-28","v":7},{"d":"2019-06-06","v":8},{"d":"2019-06-15","v":5},{"d":"2019-06-23","v":6},{"d":"2019-07-01","v":7},{"d":"2019-07-10","v":5.5},{"d":"2019-07-18","v":6},{"d":"2019-07-27","v":5},{"d":"2019-08-05","v":6},{"d":"2019-08-14","v":6},{"d":"2019-08-24","v":6.5},{"d":"2019-09-04","v":5.5},{"d":"2019-09-14","v":5},{"d":"2019-09-23","v":6},{"d":"2019-10-01","v":5},{"d":"2019-10-09","v":6},{"d":"2019-10-21","v":10},{"d":"2019-10-30","v":8},{"d":"2019-11-08","v":9},{"d":"2019-11-16","v":12.3},{"d":"2019-11-25","v":11.5},{"d":"2019-12-03","v":10.5},{"d":"2019-12-12","v":9},{"d":"2019-12-20","v":7},{"d":"2019-12-31","v":13.4}
]
},
"encoding": {
  "x": {
    "field": "d", "type": "temporal",
    "scale": {"type": "utc", "nice": false, "domain": [{"year": 2004, "month": 4, "date": 4, "utc": true}, {"year": 2020, "month": 9, "date": 23, "utc": true}]},
    "axis": {
      "title": "Time",
      "values": [{"year": 2005, "month": 1, "date": 1, "utc": true}, {"year": 2008, "month": 1, "date": 1, "utc": true}, {"year": 2011, "month": 1, "date": 1, "utc": true}, {"year": 2014, "month": 1, "date": 1, "utc": true}, {"year": 2017, "month": 1, "date": 1, "utc": true}, {"year": 2019, "month": 12, "date": 31, "utc": true}],
      "labelExpr": "utcFormat(datum.value, '%Y-%m-%d')",
      "labelFont": "DejaVu Sans", "labelFontSize": 14, "labelColor": "#000000",
      "titleFont": "DejaVu Sans", "titleFontSize": 14, "titleFontWeight": "normal", "titleColor": "#000000",
      "domainColor": "#000000", "domainWidth": 1.1, "tickColor": "#000000", "tickSize": 5, "tickWidth": 1,
      "labelPadding": 5, "titlePadding": 8, "labelFlush": false, "labelOverlap": false,
      "grid": true, "gridColor": "#dddddd", "gridWidth": 1
    }
  },
  "y": {
    "field": "v", "type": "quantitative",
    "scale": {"domain": [1.5, 38.1], "nice": false, "zero": false},
    "axis": {
      "title": "[ug m-3]",
      "values": [5, 10, 15, 20, 25, 30, 35],
      "labelFont": "DejaVu Sans", "labelFontSize": 14, "labelColor": "#000000",
      "titleFont": "DejaVu Sans", "titleFontSize": 14, "titleFontWeight": "normal", "titleColor": "#000000",
      "domainColor": "#000000", "domainWidth": 1.1, "tickColor": "#000000", "tickSize": 5, "tickWidth": 1,
      "labelPadding": 8, "titlePadding": 9, "labelFlush": false,
      "grid": true, "gridColor": "#dddddd", "gridWidth": 1
    }
  }
},
"layer": [
  {
    "data": {"name": "obs"},
    "mark": {"type": "line", "strokeWidth": 1.5, "clip": true},
    "encoding": {
      "color": {
        "datum": "observations", "type": "nominal",
        "scale": {"domain": ["observations", "d02gmt-eu-000"], "range": ["#000000", "#f77189"]},
        "legend": {
          "orient": "none", "legendX": 328, "legendY": -167, "direction": "horizontal",
          "title": null, "padding": 0,
          "labelFont": "DejaVu Sans", "labelFontSize": 18.5, "labelFontWeight": "bold", "labelColor": "#000000",
          "labelLimit": 400,
          "symbolType": "circle", "symbolSize": 90, "symbolStrokeWidth": 0,
          "labelOffset": 8, "columnPadding": 32,
          "encode": {"symbols": {"update": {"fill": {"scale": "color", "field": "value"}, "opacity": {"value": 1}}}}
        }
      }
    }
  },
  {
    "data": {"name": "mod"},
    "mark": {"type": "line", "strokeWidth": 1.5, "opacity": 0.9, "clip": true},
    "encoding": {
      "color": {"datum": "d02gmt-eu-000", "type": "nominal"}
    }
  }
]
}
